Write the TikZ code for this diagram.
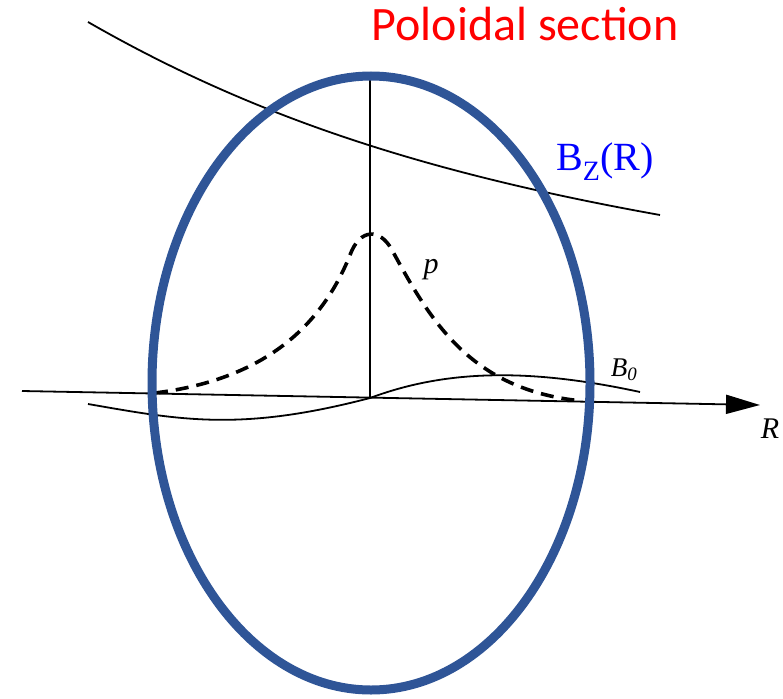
\documentclass[tikz,border=0pt]{standalone}
\usepackage{fontspec}
\setmainfont{Liberation Serif}
\newfontfamily\calib{Carlito}
\usetikzlibrary{arrows.meta}
\definecolor{ellblue}{RGB}{47,85,151}
\begin{document}
\begin{tikzpicture}[x=1pt,y=-1pt,
  thinline/.style={line width=1.8pt,black},
  dashline/.style={line width=3.6pt,dash pattern=on 13pt off 8pt,black},
  lbl/.style={inner sep=0pt}]
\useasboundingbox (0,0) rectangle (783,698);
% B_Z curve
\draw[thinline] (88,22) .. controls (250,115) and (420,172) .. (660,215);
% vertical axis
\draw[thinline] (370,75) -- (370,397);
% R axis
\coordinate (rstart) at (22,391);
\coordinate (rend) at (760,405);
\draw[thinline,-{Triangle[length=34pt,width=19pt]}] (rstart) -- (rend);
% B_0
\draw[thinline] (88,404) .. controls (180,420) and (240,432) .. (370,398)
  .. controls (440,372) and (520,366) .. (640,392);
% p dashed
\draw[dashline] (155,393) .. controls (260,380) and (320,330) .. (350,255)
  .. controls (360,228) and (380,228) .. (392,250)
  .. controls (430,320) and (470,390) .. (582,401);
% ellipse
\draw[line width=9pt,ellblue] (371,383) ellipse [x radius=219, y radius=307];
% labels
\node[lbl,text=red,font=\calib\fontsize{48}{52}\selectfont] (title) at (525,24) {Poloidal section};
\node[lbl,text=blue,font=\fontsize{40}{44}\selectfont] (bz) at (605,162) {B\textsubscript{Z}(R)};
\node[lbl,font=\itshape\fontsize{30}{32}\selectfont] (p) at (431,270) {p};
\node[lbl,font=\itshape\fontsize{27}{30}\selectfont] (b0) at (624,370) {B\textsubscript{0}};
\node[lbl,font=\itshape\fontsize{30}{32}\selectfont] (r) at (770,429) {R};
\end{tikzpicture}
\end{document}
